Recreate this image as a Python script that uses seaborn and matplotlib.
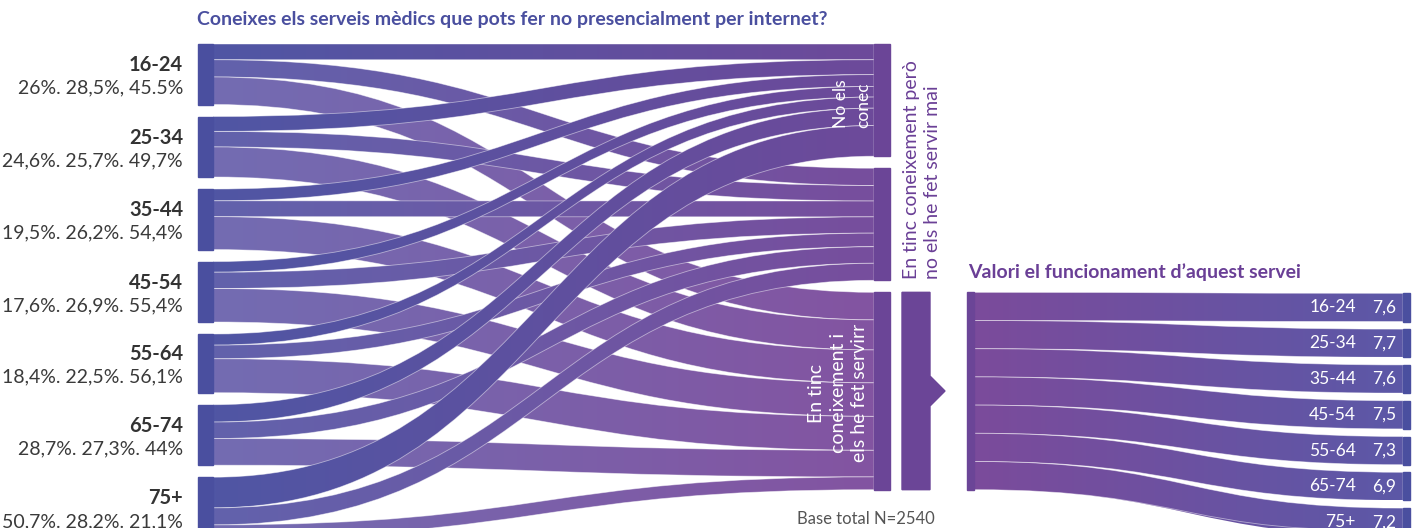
import numpy as np
import matplotlib.pyplot as plt
from matplotlib.path import Path
from matplotlib.patches import PathPatch, Polygon, Rectangle
import seaborn as sns

# dades: coneixement dels serveis mèdics no presencials per edat (%)
groups = ["16-24", "25-34", "35-44", "45-54", "55-64", "65-74", "75+"]
no_conec = [26, 24.6, 19.5, 17.6, 18.4, 28.7, 50.7]
no_usat = [28.5, 25.7, 26.2, 26.9, 22.5, 27.3, 28.2]
usat = [45.5, 49.7, 54.4, 55.4, 56.1, 44, 21.1]
pct_labels = ["26%. 28,5%, 45.5%", "24,6%. 25,7%. 49,7%", "19,5%. 26,2%. 54,4%",
              "17,6%. 26,9%. 55,4%", "18,4%. 22,5%. 56,1%", "28,7%. 27,3%. 44%",
              "50,7%. 28,2%. 21,1%"]
answers = ["No els\nconec",
           "En tinc coneixement però\nno els he fet servir mai",
           "En tinc\nconeixement i\nels he fet servirr"]
ratings = ["7,6", "7,7", "7,6", "7,5", "7,3", "6,9", "7,2"]

title1 = "Coneixes els serveis mèdics que pots fer no presencialment per internet?"
title2 = "Valori el funcionament d\u2019aquest servei"
base_txt = "Base total N=2540"

# colors
BLUE = "#4a4f9f"
PURPLE = "#6b4597"
TXT_PURPLE = "#6a3f96"
flow_left = ["#5056a4", "#6262ac", "#736cb2"]
flow_right = ["#6d4a9a", "#774e9d", "#8354a1"]
fan_left, fan_right = "#7b4b9b", "#5c58a7"

# layout (pixels)
W, H = 1419, 528
scale = 0.605
top = 44
gap = 12
lx0, lx1 = 198, 213
mx0, mx1 = 874, 890
bx0, bx1, tip = 902, 930, 945
fx0, fx1 = 967, 974
rx0, rx1 = 1403, 1410
rgap = 7.6

sns.set_style("white")
plt.rcParams["font.family"] = ["Lato", "DejaVu Sans"]

fig = plt.figure(figsize=(W / 100, H / 100), dpi=100)
ax = fig.add_axes([0, 0, 1, 1])

MOVE, CURVE, LINE, CLOSE = Path.MOVETO, Path.CURVE4, Path.LINETO, Path.CLOSEPOLY


def ribbon(x0, x1, a0, a1, b0, b1, c0, c1, z):
    xm = (x0 + x1) / 2
    verts = [(x0, a0), (xm, a0), (xm, b0), (x1, b0), (x1, b1),
             (xm, b1), (xm, a1), (x0, a1), (x0, a0)]
    codes = [MOVE, CURVE, CURVE, CURVE, LINE, CURVE, CURVE, CURVE, CLOSE]
    patch = PathPatch(Path(verts, codes), facecolor="none",
                      edgecolor=(1, 1, 1, 0.5), lw=0.6, zorder=z + 0.01)
    ax.add_patch(patch)
    grad = np.array(sns.blend_palette([c0, c1], 128))[None, :, :]
    im = ax.imshow(grad, extent=(x0, x1, max(a1, b1), min(a0, b0)),
                   aspect="auto", interpolation="bilinear", zorder=z)
    im.set_clip_path(patch)


series = [no_conec, no_usat, usat]

# left nodes
left_pos = []
y = top
for i in range(len(groups)):
    h = sum(s[i] for s in series) * scale
    left_pos.append(y)
    y += h + gap

# middle nodes
mid_pos = []
y = top
for s in series:
    mid_pos.append(y)
    y += sum(s) * scale + gap

# flows
mid_cursor = list(mid_pos)
z = 1
for i in range(len(groups)):
    y0 = left_pos[i]
    for k, s in enumerate(series):
        h = s[i] * scale
        b0 = mid_cursor[k]
        ribbon(lx1, mx0, y0, y0 + h, b0, b0 + h, flow_left[k], flow_right[k], z)
        mid_cursor[k] += h
        y0 += h
        z += 0.05

for i, g in enumerate(groups):
    h = sum(s[i] for s in series) * scale
    ax.add_patch(Rectangle((lx0, left_pos[i]), lx1 - lx0, h, color=BLUE, zorder=5))
    cy = left_pos[i] + h / 2
    ax.text(183, cy - 9, g, ha="right", va="center", fontsize=14.5,
            fontweight="bold", color="#333333")
    ax.text(183, cy + 14, pct_labels[i], ha="right", va="center", fontsize=14,
            color="#3a3a3a")

for k, s in enumerate(series):
    ax.add_patch(Rectangle((mx0, mid_pos[k]), mx1 - mx0, sum(s) * scale,
                           color=PURPLE, zorder=5))

# answer labels
ax.text(852, mid_pos[0] + 84, answers[0], rotation=90, ha="center", va="bottom",
        multialignment="left", fontsize=12.5, color="white",
        linespacing=1.5, zorder=6)
ax.text(922, mid_pos[1] + 111, answers[1], rotation=90,
        ha="center", va="bottom", multialignment="left", fontsize=14,
        color=TXT_PURPLE, linespacing=1.25, zorder=6)
used_top = mid_pos[2]
used_h = sum(usat) * scale
ax.text(838, used_top + used_h / 2 + 2, answers[2], rotation=90, ha="center",
        va="center", multialignment="center", fontsize=14,
        color="white", linespacing=1.3, zorder=6)

# barra amb fletxa
cy = used_top + used_h / 2
arrow = Polygon([(bx0, used_top), (bx1, used_top), (bx1, cy - 15), (tip, cy),
                 (bx1, cy + 15), (bx1, used_top + used_h), (bx0, used_top + used_h)],
                closed=True, color=PURPLE, zorder=5)
ax.add_patch(arrow)

# fan de valoracions
band = used_h / len(groups)
ax.add_patch(Rectangle((fx0, used_top), fx1 - fx0, used_h, color=PURPLE, zorder=5))
for i, g in enumerate(groups):
    a0 = used_top + i * band
    b0 = used_top + 1 + i * (band + rgap)
    ribbon(fx1, rx0, a0, a0 + band, b0, b0 + band, fan_left, fan_right, 2 + i * 0.05)
    ax.add_patch(Rectangle((rx0, b0), rx1 - rx0, band, color=BLUE, zorder=5))
    ax.text(1356, b0 + band / 2, g, ha="right", va="center", fontsize=12.5,
            color="white", zorder=6)
    ax.text(1396, b0 + band / 2, ratings[i], ha="right", va="center", fontsize=12.5,
            color="white", zorder=6)

# títols
ax.text(197, 20, title1, ha="left", va="center", fontsize=14, fontweight="bold",
        color=BLUE)
ax.text(968, 272, title2, ha="left", va="center", fontsize=14, fontweight="bold",
        color=TXT_PURPLE)
ax.text(866, 519, base_txt, ha="center", va="center", fontsize=12,
        color="#555555")

ax.set_xlim(0, W)
ax.set_ylim(H, 0)
ax.axis("off")
fig.savefig("out.png", dpi=100)
